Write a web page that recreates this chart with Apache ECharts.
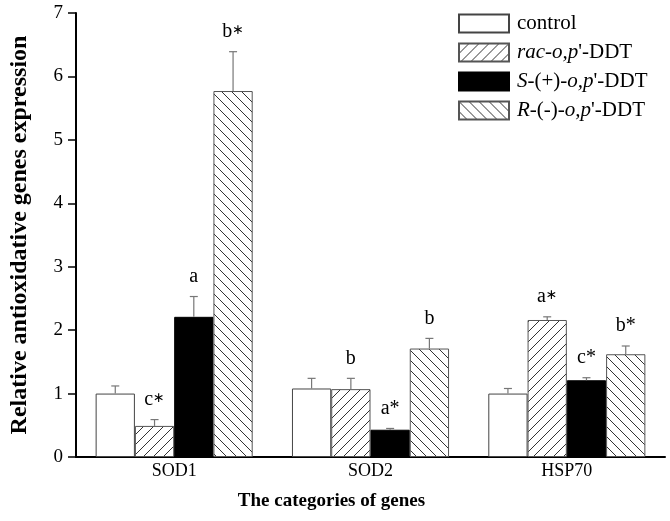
<!DOCTYPE html>
<html>
<head>
<meta charset="utf-8">
<script src="https://cdn.jsdelivr.net/npm/echarts@6/dist/echarts.min.js"></script>
<style>
    html, body { margin: 0; padding: 0; background: #fff; }
    #myChart { width: 670px; height: 521px; }
</style>
</head>
<body>
<div id="myChart"></div>
<script>
// genes on the x axis
const categories = ['SOD1', 'SOD2', 'HSP70'];
const treatments = ['control', "rac-o,p'-DDT", "S-(+)-o,p'-DDT", "R-(-)-o,p'-DDT"];

// mean relative expression, one array per treatment
const controlValues = [1.00, 1.08, 1.00];
const racValues = [0.49, 1.07, 2.16];
const sValues = [2.21, 0.43, 1.21];
const rValues = [5.77, 1.71, 1.62];

// error bar (upper) lengths
const controlErr = [0.12, 0.16, 0.08];
const racErr = [0.10, 0.17, 0.05];
const sErr = [0.32, 0.02, 0.04];
const rErr = [0.62, 0.16, 0.13];

// significance letters ({s|..} = small centred asterisk)
const controlMarks = ['', '', ''];
const racMarks = ['c{s|\u2217}', 'b', 'a{s|\u2217}'];
const sMarks = ['a', 'a*', 'c*'];
const rMarks = ['b{s|\u2217}', 'b', 'b*'];

const yTicks = [0, 1, 2, 3, 4, 5, 6, 7];

const serif = '"Liberation Serif", "Times New Roman", serif';

// hatch pattern, dir 1 = '/', dir -1 = '\'
function hatch(dir) {
    let s = 10;
    let c = document.createElement('canvas');
    c.width = s;
    c.height = s;
    let ctx = c.getContext('2d');
    ctx.fillStyle = '#fff';
    ctx.fillRect(0, 0, s, s);
    ctx.strokeStyle = '#333';
    ctx.lineWidth = 1;
    ctx.beginPath();
    if (dir > 0) {
        ctx.moveTo(0, s); ctx.lineTo(s, 0);
        ctx.moveTo(-1, 1); ctx.lineTo(1, -1);
        ctx.moveTo(s - 1, s + 1); ctx.lineTo(s + 1, s - 1);
    } else {
        ctx.moveTo(0, 0); ctx.lineTo(s, s);
        ctx.moveTo(-1, s - 1); ctx.lineTo(1, s + 1);
        ctx.moveTo(s - 1, -1); ctx.lineTo(s + 1, 1);
    }
    ctx.stroke();
    return { image: c, repeat: 'repeat' };
}

const groups = [
    { values: controlValues, err: controlErr, marks: controlMarks, color: '#fff', border: '#444' },
    { values: racValues, err: racErr, marks: racMarks, color: hatch(1), border: '#555' },
    { values: sValues, err: sErr, marks: sMarks, color: '#000', border: '#000' },
    { values: rValues, err: rErr, marks: rMarks, color: hatch(-1), border: '#555' }
];

// error bar + letter, placed over the k-th bar of the group
function errorSeries(k) {
    let g = groups[k];
    return {
        type: 'custom',
        name: treatments[k] + ' err',
        data: categories.map((c, i) => [i, g.values[i], g.err[i]]),
        z: 5,
        renderItem: function (params, api) {
            let idx = api.value(0);
            let band = api.size([1, 0])[0];
            let bw = band * 0.8 / 4;
            let base = api.coord([idx, api.value(1)]);
            let x = base[0] + (k - 1.5) * bw;
            let top = api.coord([idx, api.value(1) + api.value(2)])[1];
            let y0 = base[1];
            let lineStyle = { stroke: '#777', lineWidth: 1.2 };
            let children = [
                { type: 'line', shape: { x1: x, y1: y0, x2: x, y2: top }, style: lineStyle },
                { type: 'line', shape: { x1: x - 4, y1: top, x2: x + 4, y2: top }, style: lineStyle }
            ];
            let mark = g.marks[idx];
            if (mark) {
                children.push({
                    type: 'text',
                    style: {
                        text: mark,
                        x: x,
                        y: top - 10,
                        align: 'center',
                        verticalAlign: 'bottom',
                        font: '20px ' + serif,
                        fill: '#000',
                        rich: {
                            s: { fontSize: 14, fontFamily: 'DejaVu Sans', fill: '#000', padding: [0, 0, 2, 0] }
                        }
                    }
                });
            }
            return { type: 'group', children: children };
        }
    };
}

const legendRich = {
    i: { fontStyle: 'italic', fontSize: 21, fontFamily: serif, color: '#000', lineHeight: 22 },
    n: { fontSize: 21, fontFamily: serif, color: '#000', lineHeight: 22 }
};

function legendText(name) {
    if (name === treatments[1]) return "{i|rac-o,p}{n|'-DDT}";
    if (name === treatments[2]) return "{i|S}{n|-(+)-}{i|o,p}{n|'-DDT}";
    if (name === treatments[3]) return "{i|R}{n|-(-)-}{i|o,p}{n|'-DDT}";
    return '{n|' + name + '}';
}

let myChart = echarts.init(document.getElementById('myChart'));
let option = {
    animation: false,
    backgroundColor: '#fff',
    grid: { left: 68, right: 5, top: 13, bottom: 64 },
    legend: {
        data: treatments,
        orient: 'vertical',
        left: 458,
        top: 13,
        padding: 0,
        icon: 'rect',
        itemWidth: 50,
        itemHeight: 18,
        itemGap: 8,
        formatter: legendText,
        textStyle: { rich: legendRich, padding: [0, 0, 0, 3] }
    },
    xAxis: {
        type: 'category',
        data: categories,
        name: 'The categories of genes',
        nameLocation: 'middle',
        nameGap: 35,
        nameTextStyle: {
            fontFamily: serif, fontSize: 19, fontWeight: 'bold', color: '#000',
            padding: [0, 78, 0, 0]
        },
        axisLine: { lineStyle: { color: '#000', width: 2 } },
        axisTick: { show: false },
        axisLabel: { margin: 5, fontFamily: serif, fontSize: 18, color: '#000' }
    },
    yAxis: {
        type: 'value',
        min: yTicks[0],
        max: yTicks[yTicks.length - 1],
        interval: 1,
        name: 'Relative antioxidative genes expression',
        nameLocation: 'middle',
        nameGap: 44,
        nameTextStyle: { fontFamily: serif, fontSize: 24, fontWeight: 'bold', color: '#000' },
        axisLine: { show: true, lineStyle: { color: '#000', width: 2 } },
        axisTick: { show: true, length: 8, lineStyle: { color: '#000', width: 1.5 } },
        axisLabel: { margin: 13, fontFamily: serif, fontSize: 19, color: '#000' },
        splitLine: { show: false }
    },
    series: groups.map((g, k) => ({
        name: treatments[k],
        type: 'bar',
        data: g.values,
        barGap: '0%',
        barCategoryGap: '20%',
        itemStyle: { color: g.color, borderColor: g.border, borderWidth: 1 }
    })).concat(groups.map((g, k) => errorSeries(k)))
};
myChart.setOption(option);
</script>
</body>
</html>
